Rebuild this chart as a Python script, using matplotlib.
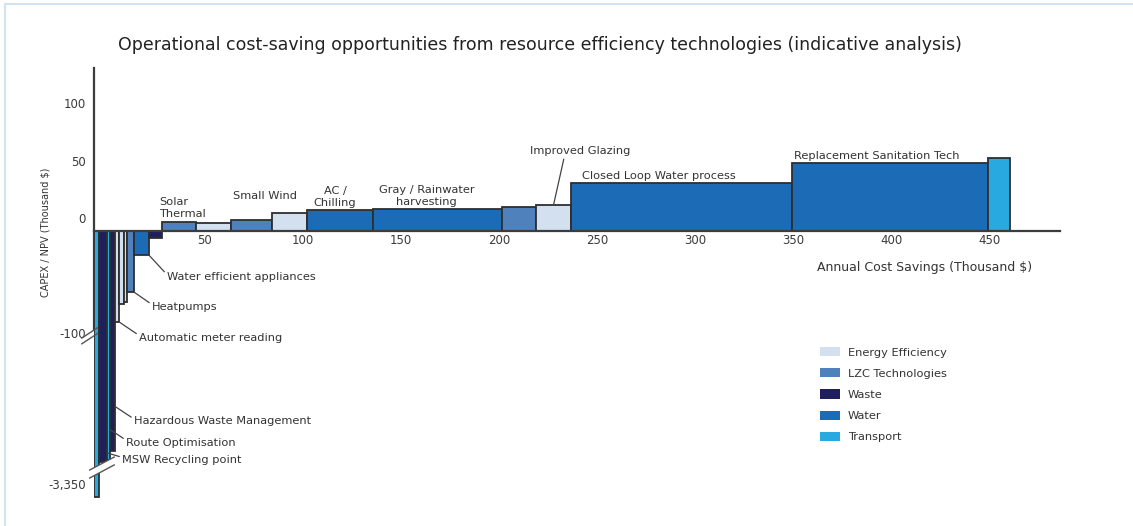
import numpy as np
import matplotlib
matplotlib.use("Agg")
import matplotlib.pyplot as plt
from matplotlib.patches import Patch, Polygon
from matplotlib.transforms import ScaledTranslation

# ---- data: one bar per measure, left to right (width = annual saving, height = CAPEX/NPV)
GROUPS = ["Energy Efficiency", "LZC Technologies", "Waste", "Water", "Transport"]
GROUP_COLOURS = ["#d3e0ef", "#4f81bd", "#1f1f5e", "#1c6bb6", "#28a9e0"]

group = ["Transport", "Waste", "Transport", "Waste",
         "Energy Efficiency", "Energy Efficiency", "Energy Efficiency", "LZC Technologies",
         "Water", "Waste",
         "LZC Technologies", "Energy Efficiency", "LZC Technologies", "Energy Efficiency",
         "Water", "Water", "LZC Technologies", "Energy Efficiency",
         "Water", "Water", "Transport"]
saving = [2.3, 4.4, 1.5, 2.5,
          2.1, 2.5, 1.6, 3.5,
          7.7, 6.6,
          17.3, 17.8, 20.9, 17.9,
          33.6, 65.7, 17.3, 17.9,
          112.6, 99.8, 11.2]
capex = [-3350, -2600, -2550, -2350,
         -79, -63, -62, -53,
         -21, -6,
         8, 7, 9.5, 15.5,
         18, 19, 21, 22.5,
         42, 59, 64]
names = ["", "MSW Recycling point", "Route Optimisation", "Hazardous Waste Management",
         "Automatic meter reading", "", "", "Heatpumps",
         "Water efficient appliances", "",
         "Solar\nThermal", "", "Small Wind", "",
         "AC /\nChilling", "Gray / Rainwater\nharvesting", "", "Improved Glazing",
         "Closed Loop Water process", "Replacement Sanitation Tech", ""]

y_ticks = [100, 50, 0, -100, -3350]
y_ticklabels = ["100", "50", "0", "-100", "-3,350"]
x_ticks = [50, 100, 150, 200, 250, 300, 350, 400, 450]

# ---- layout
X_START = -6.3          # first bar sits on the y axis
BREAK = -100            # below this the y axis is squeezed (broken axis)
SQUEEZE = 0.0404
TXT = "#333333"
FONT = "DejaVu Sans"
LBL = 8.2


def fwd(y):
    y = np.asarray(y, dtype=float)
    return np.where(y >= BREAK, y, BREAK + (y - BREAK) * SQUEEZE)


def inv(y):
    y = np.asarray(y, dtype=float)
    return np.where(y >= BREAK, y, BREAK + (y - BREAK) / SQUEEZE)


fig = plt.figure(figsize=(11.33, 5.26), dpi=100)
ax = fig.add_axes([94 / 1133, 26 / 526, (1060 - 94) / 1133, 432 / 526])
ax.set_yscale("function", functions=(fwd, inv))

lefts = X_START + np.concatenate([[0], np.cumsum(saving)[:-1]])
colours = [GROUP_COLOURS[GROUPS.index(g)] for g in group]
ax.bar(lefts, capex, width=saving, align="edge", color=colours,
       edgecolor="#2e2e2e", linewidth=1.3, zorder=3)

ax.set_xlim(X_START, 486)
ax.set_ylim(-3415, 142)

for s in ["top", "right"]:
    ax.spines[s].set_visible(False)
ax.spines["bottom"].set_position(("data", 0))
ax.spines["bottom"].set_color("#3c3c3c")
ax.spines["bottom"].set_linewidth(1.6)
ax.spines["bottom"].set_zorder(4)
ax.spines["left"].set_color("#3c3c3c")
ax.spines["left"].set_linewidth(1.6)
ax.spines["left"].set_bounds(-86, 142)

ax.set_xticks(x_ticks)
ax.set_xticklabels([str(v) for v in x_ticks])
ax.set_yticks(y_ticks)
ax.set_yticklabels(y_ticklabels)
ax.tick_params(axis="both", length=0, labelsize=8.5, labelcolor="#3a3a3a")
ax.tick_params(axis="x", pad=2)
ax.tick_params(axis="y", pad=6)
lift = ScaledTranslation(0, 13 / 100, fig.dpi_scale_trans)
for lab in ax.get_yticklabels():
    lab.set_transform(lab.get_transform() + lift)

# broken-axis marks
ax.plot([-12.5, -4.5], [-93, -84], color="#555555", lw=1.0, clip_on=False, zorder=6)
ax.plot([-12.5, -4.5], [-98, -89], color="#555555", lw=1.0, clip_on=False, zorder=6)
band_x = [-8.5, 4.0, 4.0, -8.5]
band_y = [-2769, -2490, -2660, -2941]
ax.add_patch(Polygon(list(zip(band_x, band_y)), closed=True, facecolor="white",
                     edgecolor="none", zorder=5, clip_on=False))
ax.plot(band_x[:2], band_y[:2], color="#555555", lw=1.0, clip_on=False, zorder=6)
ax.plot(band_x[3:1:-1], band_y[3:1:-1], color="#555555", lw=1.0, clip_on=False, zorder=6)

# ---- labels above the positive bars: (dx, dy) pixels from bar left/centre top
above = {10: ("left", 0.0, -3, 3), 12: ("left", 0.0, 2, 19),
         14: ("center", 0.5, -5, 2), 15: ("center", 0.5, -11, 2),
         18: ("left", 0.0, 11, 2), 19: ("left", 0.0, 2, 2)}
for i, (ha, frac, dx, dy) in above.items():
    ax.annotate(names[i], (lefts[i] + frac * saving[i], capex[i]), xytext=(dx, dy),
                textcoords="offset pixels", ha=ha, va="bottom", fontsize=LBL,
                color=TXT, family=FONT, linespacing=1.3)

leader = dict(arrowstyle="-", color="#444444", lw=0.9, shrinkA=0, shrinkB=0)
ax.annotate(names[17], (lefts[17] + 0.5 * saving[17], capex[17]), xytext=(27, 49),
            textcoords="offset pixels", ha="center", va="bottom", fontsize=LBL,
            color=TXT, family=FONT,
            arrowprops=dict(leader, relpos=(0.34, 0.0)))

# ---- labels with leaders below the negative bars: anchor y (None = bar end), offsets
below = {8: (None, 18, -22), 7: (None, 18, -15), 4: (None, 20, -16),
         3: (-1400, 19, -15), 2: (-1900, 16, -13), 1: (-2400, 15, -7)}
for i, (ya, dx, dy) in below.items():
    ax.annotate(names[i], (lefts[i] + saving[i], capex[i] if ya is None else ya),
                xytext=(dx, dy), textcoords="offset pixels", ha="left", va="center",
                fontsize=LBL, color=TXT, family=FONT,
                arrowprops=dict(leader, relpos=(0.0, 0.75)))

handles = [Patch(facecolor=c, edgecolor="none") for c in GROUP_COLOURS]
fig.legend(handles, GROUPS, loc="upper left", bbox_to_anchor=(820 / 1133, 1 - 347 / 526),
           bbox_transform=fig.transFigure, frameon=False, fontsize=8.2, borderpad=0,
           borderaxespad=0, handlelength=1.75, handleheight=0.88, handletextpad=0.7,
           labelspacing=0.93, labelcolor=TXT)

fig.text(540 / 1133, 1 - 45 / 526,
         "Operational cost-saving opportunities from resource efficiency technologies "
         "(indicative analysis)", ha="center", va="center", fontsize=12.5, color="#222222",
         family=FONT)
fig.text(925 / 1133, 1 - 268 / 526, "Annual Cost Savings (Thousand $)", ha="center",
         va="center", fontsize=9, color=TXT, family=FONT)
fig.text(45 / 1133, 1 - 232 / 526, "CAPEX / NPV (Thousand $)", rotation=90, ha="center",
         va="center", fontsize=7, color=TXT, family=FONT)

# light frame around the slide
fig.add_artist(plt.Line2D([5 / 1133, 5 / 1133], [0, 1 - 4 / 526], color="#d4e3f2",
                          lw=1.5, transform=fig.transFigure))
fig.add_artist(plt.Line2D([5 / 1133, 1], [1 - 4 / 526, 1 - 4 / 526], color="#d4e3f2",
                          lw=1.5, transform=fig.transFigure))

fig.savefig("out.png", dpi=100)
